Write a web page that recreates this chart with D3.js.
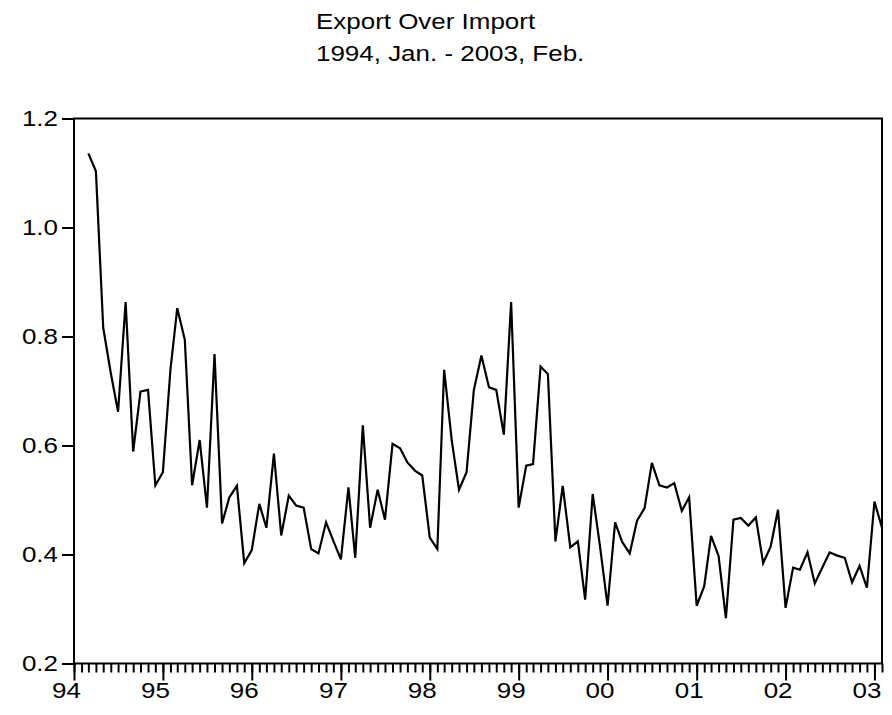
<!DOCTYPE html>
<html>
<head>
<meta charset="utf-8">
<script src="https://cdn.jsdelivr.net/npm/d3@7"></script>
<style>
  body { margin: 0; background: #fff; }
  svg text { font-family: "Liberation Sans", Arial, sans-serif; fill: #000; }
</style>
</head>
<body>
<div id="chart"></div>
<script>
const WIDTH = 892;
const HEIGHT = 715;
const MARGIN = { top: 118.5, right: 10, bottom: 51.5, left: 74 };
const FONT = 22;
const SX = 1.18;   // the original picture is stretched sideways

const TITLE = "Export Over Import";
const SUBTITLE = "1994, Jan. - 2003, Feb.";

// monthly series starting 1994M01, ending 2003M02 (Jan/Feb 1994 missing)
const startYear = 1994;
const ratio = [
  null, null, 1.136, 1.103, 0.816, 0.733, 0.662, 0.863, 0.589, 0.699, 0.702, 0.527,
  0.551, 0.739, 0.852, 0.794, 0.527, 0.610, 0.486, 0.768, 0.457, 0.505, 0.526, 0.384,
  0.408, 0.493, 0.449, 0.585, 0.435, 0.508, 0.490, 0.486, 0.410, 0.402, 0.459, 0.425,
  0.391, 0.523, 0.394, 0.637, 0.449, 0.519, 0.464, 0.603, 0.595, 0.569, 0.554, 0.545,
  0.431, 0.410, 0.739, 0.610, 0.519, 0.551, 0.702, 0.765, 0.707, 0.702, 0.620, 0.863,
  0.486, 0.563, 0.566, 0.745, 0.731, 0.424, 0.526, 0.413, 0.424, 0.317, 0.511, 0.415,
  0.306, 0.459, 0.423, 0.402, 0.462, 0.485, 0.568, 0.527, 0.523, 0.531, 0.480, 0.505,
  0.306, 0.342, 0.434, 0.397, 0.283, 0.464, 0.467, 0.453, 0.468, 0.384, 0.415, 0.482,
  0.302, 0.376, 0.372, 0.404, 0.347, 0.376, 0.404, 0.398, 0.394, 0.349, 0.379, 0.339,
  0.497, 0.449
];

const yTicks = [0.2, 0.4, 0.6, 0.8, 1.0, 1.2];
const yearLabels = ["94", "95", "96", "97", "98", "99", "00", "01", "02", "03"];

const data = ratio.map((v, i) => ({ date: new Date(Date.UTC(startYear, i, 1)), v }));

const svg = d3.select("#chart").append("svg")
    .attr("width", WIDTH)
    .attr("height", HEIGHT);

const x = d3.scaleUtc()
    .domain(d3.extent(data, d => d.date))
    .range([MARGIN.left, WIDTH - MARGIN.right]);

const y = d3.scaleLinear()
    .domain([0.2, 1.2])
    .range([HEIGHT - MARGIN.bottom, MARGIN.top]);

// stretch a text sideways around its anchor
function stretch(sel) {
    sel.each(function() {
        const t = d3.select(this);
        const tx = +t.attr("x") || 0;
        t.attr("x", 0).attr("transform", `translate(${tx},0) scale(${SX},1)`);
    });
}

// Titulos
svg.append("text")
    .attr("x", 0).attr("y", 29.5)
    .attr("transform", `translate(316,0) scale(${SX},1)`)
    .style("font-size", FONT + "px")
    .text(TITLE);
svg.append("text")
    .attr("x", 0).attr("y", 61)
    .attr("transform", `translate(316,0) scale(${SX},1)`)
    .style("font-size", FONT + "px")
    .text(SUBTITLE);

// Eje Y
const yAxis = svg.append("g")
    .attr("transform", `translate(${MARGIN.left},0)`)
    .call(d3.axisLeft(y).tickValues(yTicks).tickFormat(d3.format(".1f")).tickSize(12).tickPadding(4));
yAxis.select(".domain").remove();
yAxis.selectAll("line").attr("stroke", "#000").attr("stroke-width", 2);
yAxis.selectAll("text")
    .style("font-size", FONT + "px")
    .style("font-family", '"Liberation Sans", Arial, sans-serif')
    .call(stretch);

// Eje X: years (major) and months (minor)
const years = d3.utcYears(x.domain()[0], d3.utcMonth.offset(x.domain()[1], 1));
const months = d3.utcMonths(x.domain()[0], d3.utcMonth.offset(x.domain()[1], 1));

const xMinor = svg.append("g")
    .attr("transform", `translate(0,${HEIGHT - MARGIN.bottom})`)
    .call(d3.axisBottom(x).tickValues(months).tickSize(9).tickFormat(""));
xMinor.select(".domain").remove();
xMinor.selectAll("line").attr("stroke", "#000").attr("stroke-width", 2);

const xMajor = svg.append("g")
    .attr("transform", `translate(0,${HEIGHT - MARGIN.bottom})`)
    .call(d3.axisBottom(x).tickValues(years).tickSize(17).tickPadding(0)
        .tickFormat((d, i) => yearLabels[i]));
xMajor.select(".domain").remove();
xMajor.selectAll("line").attr("stroke", "#000").attr("stroke-width", 2);
xMajor.selectAll("text")
    .style("font-size", FONT + "px")
    .style("font-family", '"Liberation Sans", Arial, sans-serif')
    .attr("x", -8)
    .attr("y", 0)
    .attr("dy", 34.5)
    .call(stretch);

// Marco
svg.append("rect")
    .attr("x", x.range()[0])
    .attr("y", y.range()[1])
    .attr("width", x.range()[1] - x.range()[0])
    .attr("height", y.range()[0] - y.range()[1])
    .attr("fill", "none")
    .attr("stroke", "#000")
    .attr("stroke-width", 2);

// Serie
const line = d3.line()
    .defined(d => d.v !== null)
    .x(d => x(d.date))
    .y(d => y(d.v));

svg.append("path")
    .datum(data)
    .attr("fill", "none")
    .attr("stroke", "#000")
    .attr("stroke-width", 2.2)
    .attr("stroke-linejoin", "miter")
    .attr("d", line);
</script>
</body>
</html>
